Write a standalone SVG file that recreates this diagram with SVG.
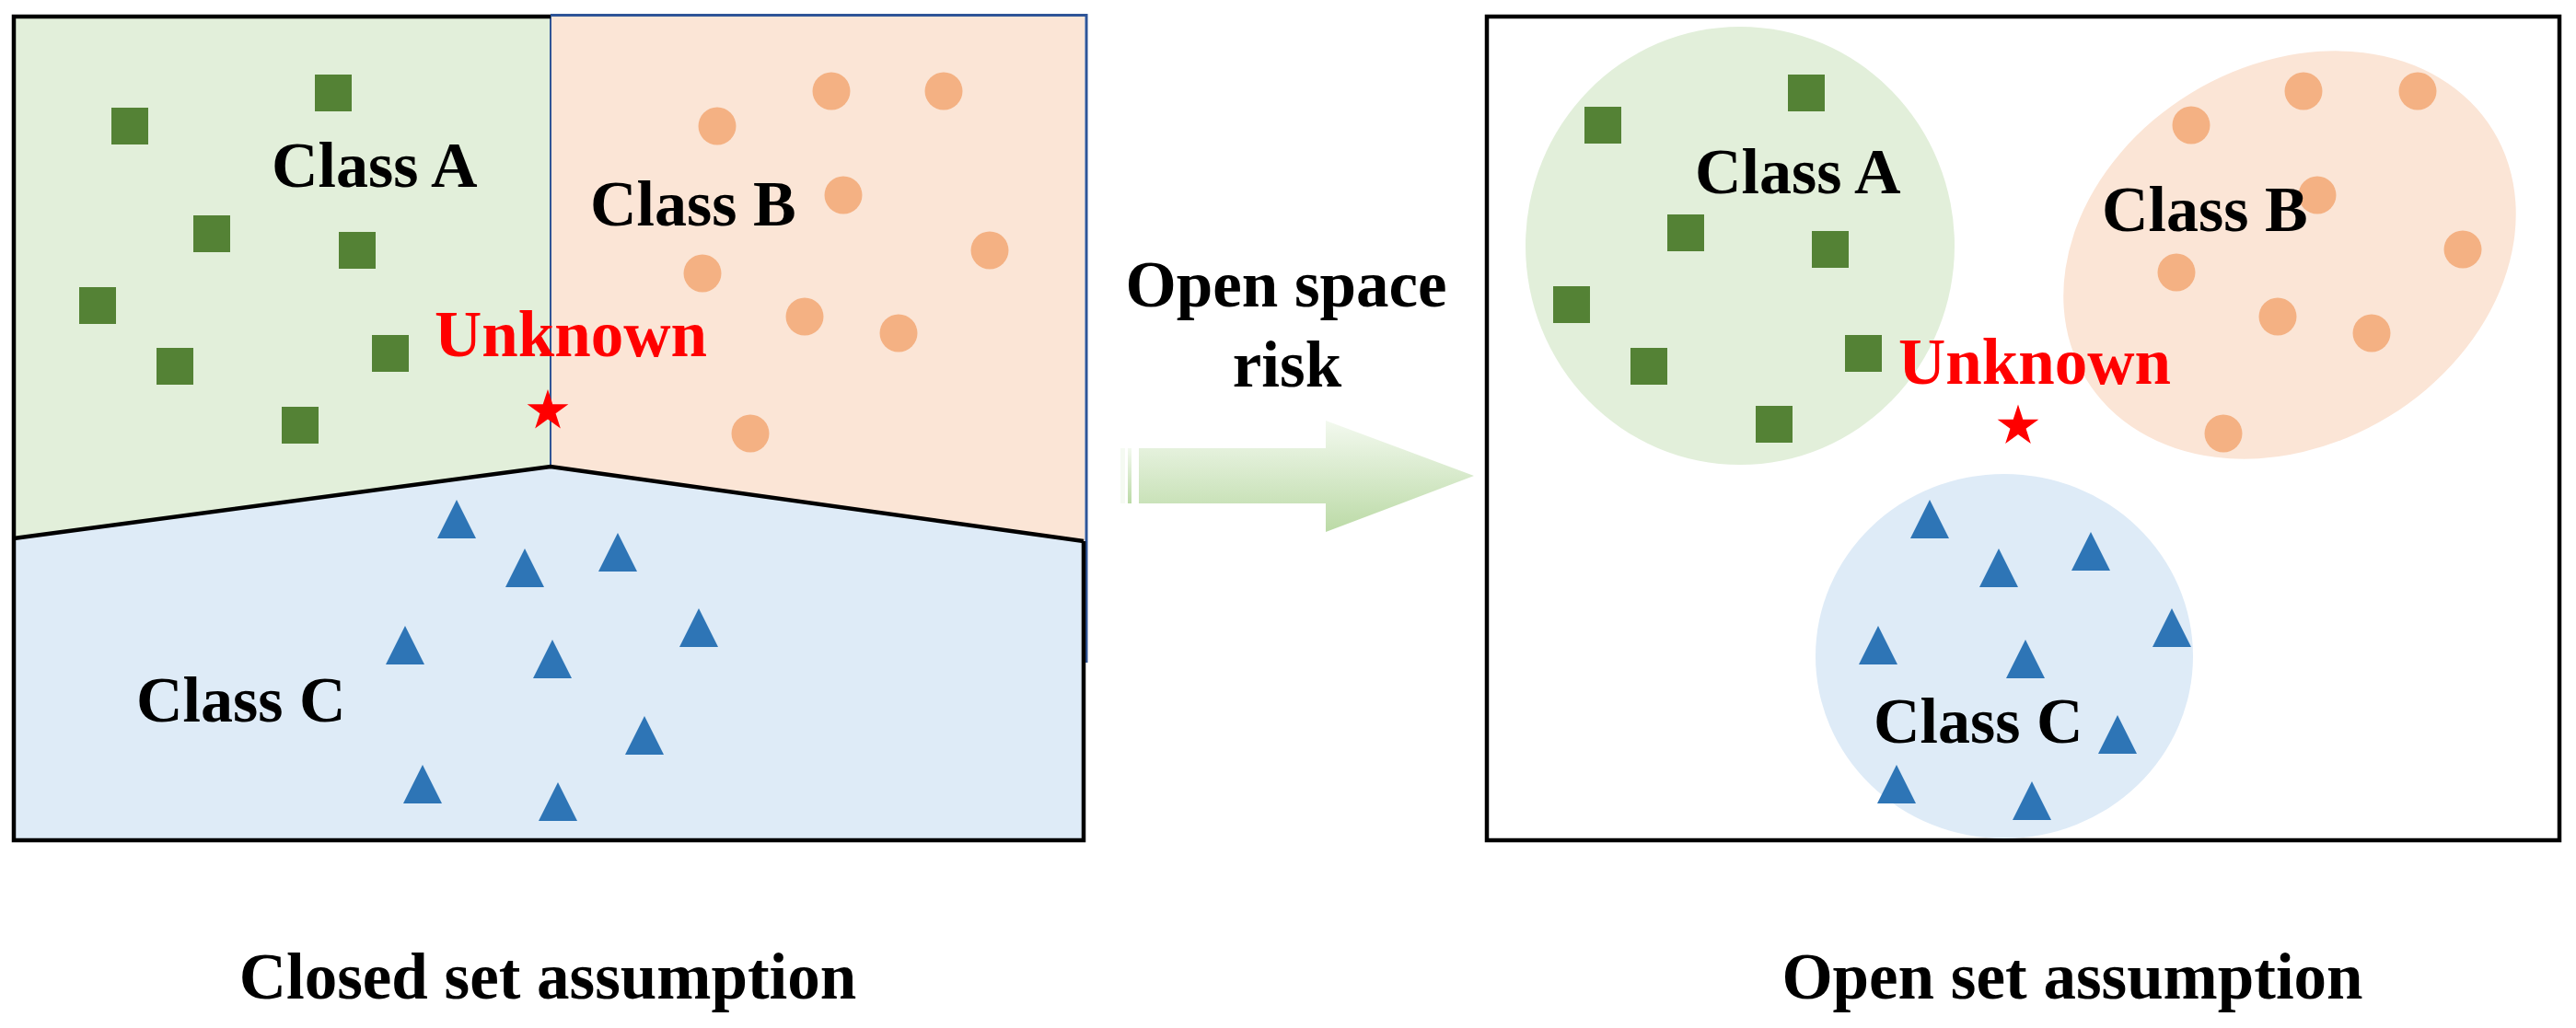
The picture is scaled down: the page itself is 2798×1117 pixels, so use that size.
<svg xmlns="http://www.w3.org/2000/svg" xmlns:xlink="http://www.w3.org/1999/xlink" width="2798" height="1117" viewBox="0 0 2798 1117">
<style>
.lbl{font-family:"Liberation Serif","Times New Roman",serif;font-weight:bold;font-size:70px;fill:#000}
.unk{font-family:"Liberation Serif","Times New Roman",serif;font-weight:bold;font-size:71px;fill:#ff0000}
.big{font-family:"Liberation Serif","Times New Roman",serif;font-weight:bold;font-size:71px;fill:#000}
.sq{fill:#548235}
.ci{fill:#f4b183}
.tr{fill:#2e75b6}
.star{fill:#ff0000}
.blk{fill:none;stroke:#000;stroke-width:4.5;stroke-linejoin:miter}
.blu{fill:none;stroke:#2f5597;stroke-width:3}
</style>
<defs>
<rect id="s" x="-20" y="-20" width="40" height="40"/>
<circle id="c" r="20.5"/>
<polygon id="t" points="0,0 21,42 -21,42"/>
<polygon id="st" points="0,-23.5 5.29,-7.28 22.35,-7.26 8.56,2.78 13.81,19.01 0,9 -13.81,19.01 -8.56,2.78 -22.35,-7.26 -5.29,-7.28"/>
<linearGradient id="ag" x1="0" y1="0" x2="0" y2="1">
<stop offset="0" stop-color="#f3f9ef"/>
<stop offset="1" stop-color="#bbdaa6"/>
</linearGradient>
</defs>
<rect width="2798" height="1117" fill="#fff"/>

<g id="closed-panel">
<polygon id="region-a" points="15,18 598,18 598,507 15,585" fill="#e2efda"/>
<polygon id="region-b" points="598,18 1178,18 1178,588 598,507" fill="#fbe5d6"/>
<polygon id="region-c" points="15,585 598,507 1178,588 1178,914 15,914" fill="#deebf7"/>
<path class="blu" d="M598,16.5 H1180 V720"/>
<path d="M598,18 V507" fill="none" stroke="#2f5597" stroke-width="2"/>
<path class="blk" d="M598,18 H15 V913 H1177 V588"/>
<path class="blk" d="M15,585 L598,507 L1177,588"/>
<g id="closed-a-points" class="sq">
<use href="#s" x="141" y="137"/><use href="#s" x="362" y="101"/><use href="#s" x="230" y="254"/><use href="#s" x="388" y="272"/>
<use href="#s" x="106" y="332"/><use href="#s" x="190" y="398"/><use href="#s" x="424" y="384"/><use href="#s" x="326" y="462"/>
</g>
<g id="closed-b-points" class="ci">
<use href="#c" x="903" y="99"/><use href="#c" x="1025" y="99"/><use href="#c" x="779" y="137"/><use href="#c" x="916" y="212"/>
<use href="#c" x="1075" y="272"/><use href="#c" x="763" y="297"/><use href="#c" x="874" y="344"/><use href="#c" x="976" y="362"/>
<use href="#c" x="815" y="471"/>
</g>
<g id="closed-c-points" class="tr">
<use href="#t" x="496" y="543"/><use href="#t" x="671" y="579"/><use href="#t" x="570" y="596"/><use href="#t" x="759" y="661"/>
<use href="#t" x="440" y="680"/><use href="#t" x="600" y="695"/><use href="#t" x="700" y="778"/><use href="#t" x="459" y="831"/>
<use href="#t" x="606" y="850"/>
</g>
<text class="lbl" x="295" y="203">Class A</text>
<text class="lbl" x="641" y="245">Class B</text>
<text class="lbl" x="148" y="784">Class C</text>
<text class="unk" x="472" y="387">Unknown</text>
<use class="star" href="#st" x="595" y="446.5"/>
</g>

<g id="transition">
<text class="big" x="1397" y="333" text-anchor="middle">Open space</text>
<text class="big" x="1398" y="420" text-anchor="middle">risk</text>
<rect x="1217" y="487" width="5" height="60" fill="#f5faf2"/>
<rect x="1225" y="487" width="4" height="60" fill="url(#ag)"/>
<polygon points="1237,487 1440,487 1440,457 1601,517 1440,578 1440,547 1237,547" fill="url(#ag)"/>
</g>

<g id="open-panel">
<rect x="1615" y="18" width="1165" height="895" fill="#fff" stroke="#000" stroke-width="4.5"/>
<ellipse id="cluster-a" cx="1890" cy="267" rx="233" ry="238" fill="#e2efda"/>
<ellipse id="cluster-b" cx="2487" cy="277" rx="259" ry="206" transform="rotate(-31.4 2487 277)" fill="#fbe5d6"/>
<ellipse id="cluster-c" cx="2177" cy="713" rx="205" ry="198" fill="#deebf7"/>
<g id="open-a-points" class="sq">
<use href="#s" x="1741" y="136"/><use href="#s" x="1962" y="101"/><use href="#s" x="1831" y="253"/><use href="#s" x="1988" y="271"/>
<use href="#s" x="1707" y="331"/><use href="#s" x="1791" y="398"/><use href="#s" x="2024" y="384"/><use href="#s" x="1927" y="461"/>
</g>
<g id="open-b-points" class="ci">
<use href="#c" x="2502" y="99"/><use href="#c" x="2626" y="99"/><use href="#c" x="2380" y="136"/><use href="#c" x="2517" y="212"/>
<use href="#c" x="2675" y="271"/><use href="#c" x="2364" y="296"/><use href="#c" x="2474" y="344"/><use href="#c" x="2576" y="362"/>
<use href="#c" x="2415" y="471"/>
</g>
<text class="lbl" x="1841" y="210">Class A</text>
<text class="lbl" x="2283" y="251">Class B</text>
<g id="open-c-points" class="tr">
<use href="#t" x="2096" y="543"/><use href="#t" x="2271" y="578"/><use href="#t" x="2171" y="596"/><use href="#t" x="2359" y="661"/>
<use href="#t" x="2040" y="680"/><use href="#t" x="2200" y="695"/><use href="#t" x="2300" y="777"/><use href="#t" x="2060" y="831"/>
<use href="#t" x="2207" y="849"/>
</g>
<text class="lbl" x="2035" y="807">Class C</text>
<text class="unk" x="2062" y="417">Unknown</text>
<use class="star" href="#st" x="2192" y="463"/>
</g>

<g id="captions">
<text class="big" x="595" y="1085" text-anchor="middle">Closed set assumption</text>
<text class="big" x="2251" y="1085" text-anchor="middle">Open set assumption</text>
</g>
</svg>
